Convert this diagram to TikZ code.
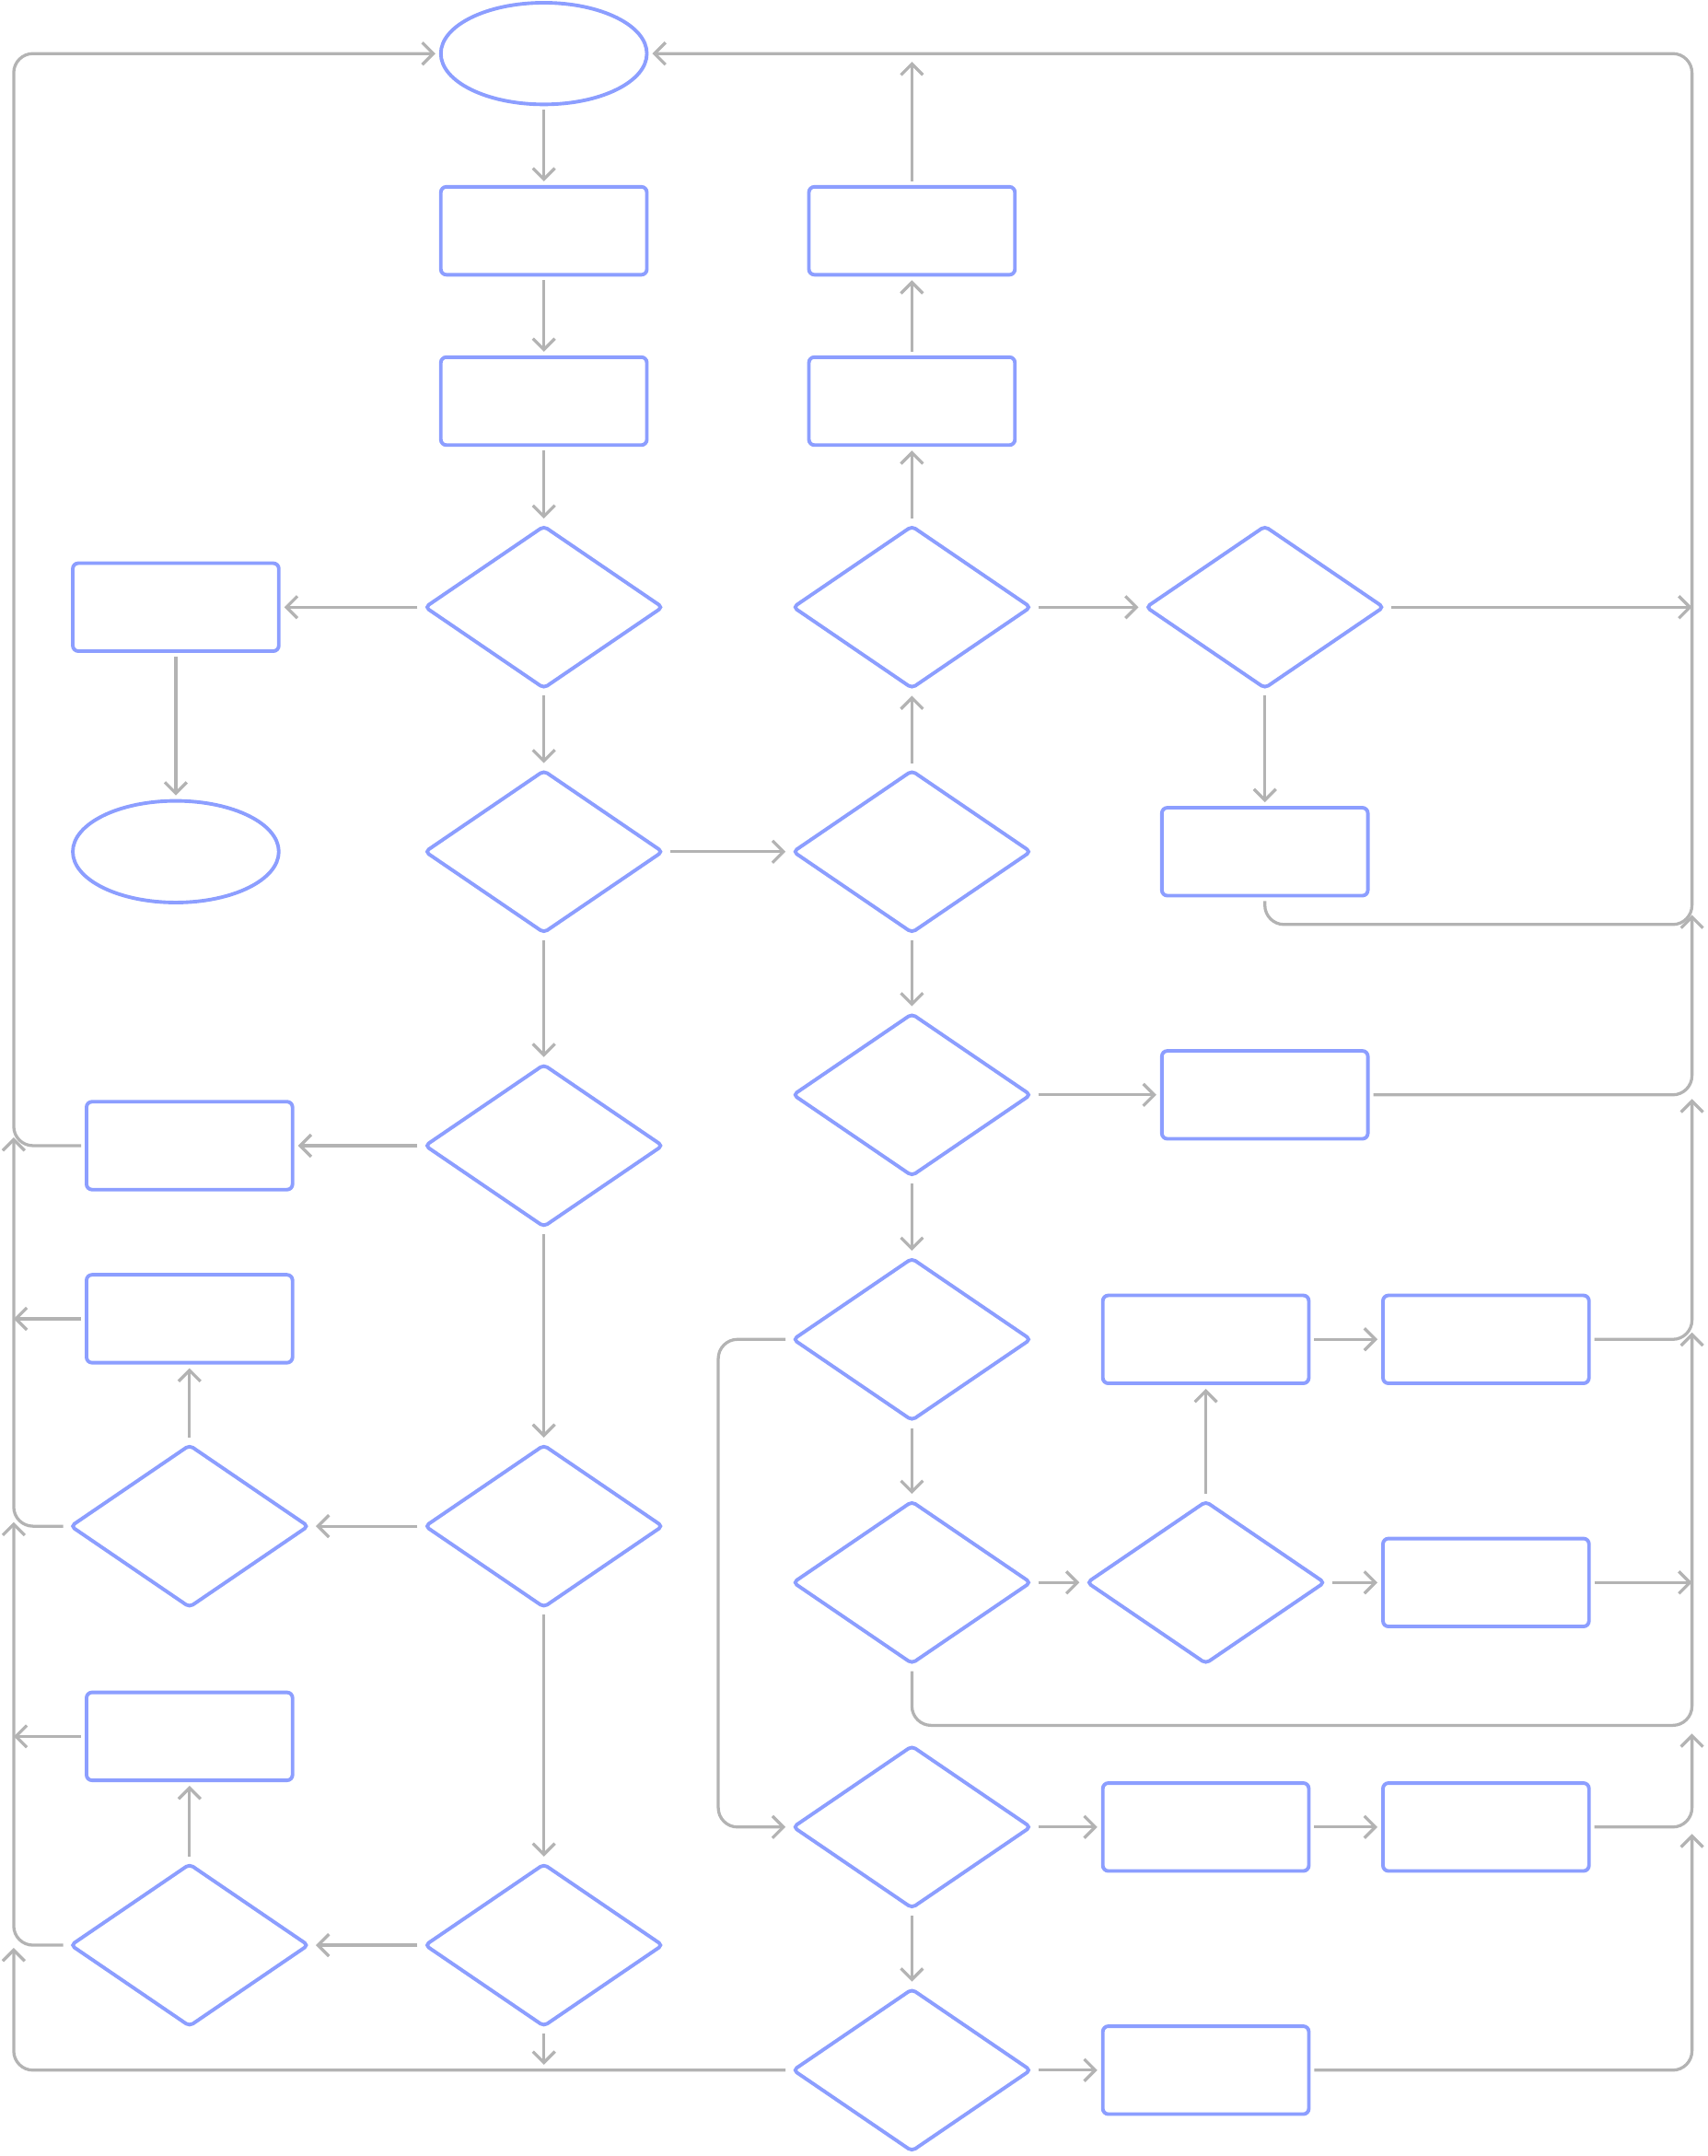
\documentclass[tikz,border=0pt]{standalone}
\usepackage{tikz}
\usetikzlibrary{shapes.geometric, positioning, arrows.meta}

\definecolor{nodeblue}{HTML}{8C9EFF}
\definecolor{linkgray}{HTML}{B3B3B3}

\begin{document}
\begin{tikzpicture}[
    x=1pt, y=-1pt, on grid,
    every node/.style={outer sep=4pt},
    terminal/.style={ellipse, draw=nodeblue, line width=2.6pt, minimum width=150pt, minimum height=74pt},
    process/.style={rectangle, draw=nodeblue, line width=2.6pt, rounded corners=4pt, minimum width=150pt, minimum height=64pt},
    decision/.style={diamond, draw=nodeblue, line width=2.6pt, rounded corners=3pt, inner sep=0pt, minimum width=176pt, minimum height=121pt},
    link/.style={draw=linkgray, line width=2.2pt, rounded corners=14pt, -{Straight Barb[length=8pt,width=16pt]}}
]
    \useasboundingbox (0,0) rectangle (1243,1569.5);

    % Main column
    \node[terminal] (start) at (396,39) {};
    \node[process, below=129pt of start] (reset) {};
    \node[process, below=124pt of reset] (input) {};
    \node[decision, below=150pt of input] (qa) {};
    \node[decision, below=178pt of qa] (qb) {};
    \node[decision, below=214pt of qb] (qc) {};
    \node[decision, below=277pt of qc] (qd) {};
    \node[decision, below=305pt of qd] (qe) {};

    % Left column
    \node[process, left=268pt of qa] (quit) {};
    \node[terminal, below=178pt of quit] (stop) {};
    \node[process, left=258pt of qc] (turnl) {};
    \node[decision, left=258pt of qd] (ql) {};
    \node[process, above=151pt of ql] (movel) {};
    \node[decision, left=258pt of qe] (qm) {};
    \node[process, above=152pt of qm] (movem) {};

    % Middle column
    \node[decision, right=268pt of qb] (qf) {};
    \node[decision, above=178pt of qf] (qg) {};
    \node[process, above=150pt of qg] (level) {};
    \node[process, above=124pt of level] (speed) {};
    \node[decision, below=177pt of qf] (qh) {};
    \node[decision, below=178pt of qh] (qi) {};
    \node[decision, below=177pt of qi] (qj) {};
    \node[decision, below=178pt of qj] (qk) {};
    \node[decision, below=177pt of qk] (qn) {};

    % Right columns
    \node[decision, right=257pt of qg] (qo) {};
    \node[process, below=178pt of qo] (win) {};
    \node[process, right=257pt of qh] (crash) {};
    \node[process, right=214pt of qi] (eat) {};
    \node[process, right=204pt of eat] (grow) {};
    \node[decision, right=214pt of qj] (qp) {};
    \node[process, right=204pt of qp] (wrap) {};
    \node[process, right=214pt of qk] (sound) {};
    \node[process, right=204pt of sound] (paint) {};
    \node[process, right=214pt of qn] (draw) {};

    % Free ends on the rails
    \coordinate (toprail) at (663,45);
    \coordinate (botrail) at (396,1503);
    \coordinate (rail) at (1232,0);
    \coordinate (rb) at (1232,666);
    \coordinate (rc) at (1232,800);
    \coordinate (rd) at (1232,970);
    \coordinate (rf) at (1232,1262);
    \coordinate (rg) at (1232,1335);
    \coordinate (la) at (10,828);
    \coordinate (lb) at (10,960);
    \coordinate (lc) at (10,1108);
    \coordinate (ld) at (10,1264);
    \coordinate (le) at (10,1418);

    % Straight links
    \draw[link] (start) -- (reset);
    \draw[link] (reset) -- (input);
    \draw[link] (input) -- (qa);
    \draw[link] (qa) -- (quit);
    \draw[link] (quit) -- (stop);
    \draw[link] (qa) -- (qb);
    \draw[link] (qb) -- (qf);
    \draw[link] (qb) -- (qc);
    \draw[link] (qf) -- (qg);
    \draw[link] (qg) -- (level);
    \draw[link] (level) -- (speed);
    \draw[link] (speed.north) -- (speed.north |- toprail);
    \draw[link] (qg) -- (qo);
    \draw[link] (qo) -- (win);
    \draw[link] (qo.east) -- (qo.east -| rail);
    \draw[link] (qc) -- (turnl);
    \draw[link] (qc) -- (qd);
    \draw[link] (qd) -- (ql);
    \draw[link] (ql) -- (movel);
    \draw[link] (qd) -- (qe);
    \draw[link] (qe) -- (qm);
    \draw[link] (qm) -- (movem);
    \draw[link] (qe.south) -- (botrail);
    \draw[link] (qf) -- (qh);
    \draw[link] (qh) -- (crash);
    \draw[link] (qh) -- (qi);
    \draw[link] (qi) -- (qj);
    \draw[link] (qj) -- (qp);
    \draw[link] (qp) -- (eat);
    \draw[link] (eat) -- (grow);
    \draw[link] (qp) -- (wrap);
    \draw[link] (wrap.east) -- (wrap.east -| rail);
    \draw[link] (qk) -- (sound);
    \draw[link] (sound) -- (paint);
    \draw[link] (qk) -- (qn);
    \draw[link] (qn) -- (draw);

    % Right rail
    \draw[link] (win.south) |- (1232,673) |- (start.east);
    \draw[link] (crash.east) -| (rb);
    \draw[link] (grow.east) -| (rc);
    \draw[link] (qj.south) |- (1232,1256) -- (rd);
    \draw[link] (paint.east) -| (rf);
    \draw[link] (draw.east) -| (rg);

    % Left rail
    \draw[link] (turnl.west) -| (10,39) -- (start.west);
    \draw[link] (movel.west) -- (lb);
    \draw[link] (ql.west) -| (la);
    \draw[link] (movem.west) -- (ld);
    \draw[link] (qm.west) -| (lc);
    \draw[link] (qn.west) -| (le);
    \draw[link] (qi.west) -- ++(-49,0) |- (qk.west);

\end{tikzpicture}
\end{document}
